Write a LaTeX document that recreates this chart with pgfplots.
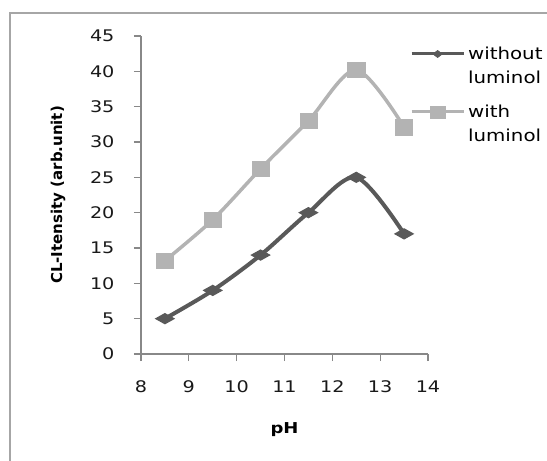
\documentclass[border=0pt]{standalone}
\usepackage{fontspec}
\setmainfont{DejaVu Sans}[FakeStretch=1.2]
\newfontfamily\ylabfont{DejaVu Sans}
\usepackage{pgfplots}
\pgfplotsset{compat=1.18}
\definecolor{darkser}{HTML}{595959}
\definecolor{lightser}{HTML}{B3B3B3}
\definecolor{axisgray}{HTML}{888888}
\definecolor{framegray}{HTML}{A6A6A6}
\pgfplotsset{
  longleg/.style={legend image code/.code={%
    \draw[##1, line width=3pt] (0pt,6pt) -- (52pt,6pt);
    \draw[##1, only marks] plot coordinates {(26pt,6pt)};}},
}

\begin{document}
\begin{tikzpicture}
\draw[framegray, line width=1.5pt] (-131pt,-110pt) -- (-131pt,341pt) -- (410pt,341pt);
\begin{axis}[
  at={(0pt,0pt)}, anchor=south west,
  scale only axis, width=287pt, height=318pt,
  xmin=8, xmax=14, ymin=0, ymax=45,
  xtick={8,9,...,14}, ytick={0,5,...,45},
  axis x line*=bottom, axis y line*=left,
  axis line style={axisgray, line width=1.2pt, -},
  tick style={axisgray, line width=1.2pt},
  tick align=outside, major tick length=7pt,
  /pgf/number format/assume math mode=true,
  ticklabel style={font=\fontsize{16}{16}\selectfont, text=black!90},
  yticklabel style={anchor=east, xshift=-16pt},
  xticklabel style={anchor=center, yshift=-26pt},
  xlabel={\bfseries pH},
  ylabel={\ylabfont\bfseries CL-Itensity (arb.unit)},
  x label style={at={(axis description cs:0.5,-0.239)}, anchor=center, font=\fontsize{15}{15}\selectfont},
  y label style={at={(axis description cs:-0.289,0.5)}, anchor=center, font=\fontsize{15}{15}\selectfont},
  legend style={at={(axis description cs:0.937,0.978)}, anchor=north west, draw=none, fill=none,
    inner sep=0pt, font=\fontsize{16.5}{24}\selectfont, row sep=10pt, column sep=3pt,
    cells={anchor=base west}, nodes={inner sep=0pt, text depth=}},
]
\addplot[darkser, line width=4pt, smooth, tension=0.5, mark=diamond*,
  mark size=5pt, mark options={xscale=2.4, line width=1.2pt, fill=darkser},
  longleg,
  legend image post style={mark size=3.6pt, mark options={xscale=1.8, line width=0.5pt}}]
  coordinates {(8.5,5) (9.5,9) (10.5,14) (11.5,20) (12.5,25) (13.5,17)};
\addlegendentry{\begin{tabular}[t]{@{}l@{}}without\\luminol\end{tabular}}
\addplot[lightser, line width=3.5pt, smooth, tension=0.5, mark=square*,
  mark size=7.6pt, mark options={xscale=1.12, line width=0.5pt, fill=lightser},
  longleg,
  legend image post style={mark size=6pt, mark options={xscale=1.3, line width=0.5pt}}]
  coordinates {(8.5,13.2) (9.5,19) (10.5,26.2) (11.5,33) (12.5,40.2) (13.5,32.1)};
\addlegendentry{\begin{tabular}[t]{@{}l@{}}with\\luminol\end{tabular}}
\end{axis}
\pgfresetboundingbox
\path[use as bounding box] (-141pt,-107pt) rectangle (406pt,354pt);
\end{tikzpicture}
\end{document}
